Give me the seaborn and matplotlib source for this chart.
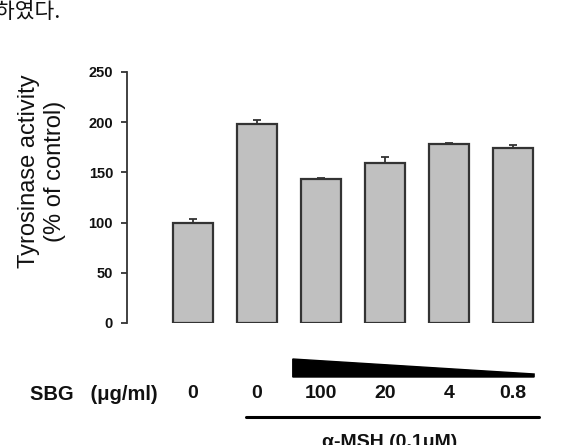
import matplotlib
matplotlib.use("Agg")
import matplotlib.pyplot as plt
import matplotlib.transforms as mtransforms
from matplotlib.patches import Polygon
import seaborn as sns
import pandas as pd
import numpy as np

# ---- data ----
groups = ["ctrl", "msh", "sbg100", "sbg20", "sbg4", "sbg0.8"]
activity = [100, 198, 143, 159, 178, 174]
errors = [4, 4, 1, 6, 1, 3]
sbg_labels = ["0", "0", "100", "20", "4", "0.8"]
yticks = [0, 50, 100, 150, 200, 250]

sns.set_theme(style="white")
plt.rcParams["font.family"] = ["Liberation Sans", "DejaVu Sans"]

W, H = 563, 445
fig = plt.figure(figsize=(W / 100, H / 100), dpi=100)
ax = fig.add_axes([127 / W, (H - 323) / H, (545 - 127) / W, (323 - 72) / H])

df = pd.DataFrame({"group": groups, "activity": activity})
sns.barplot(data=df, x="group", y="activity", order=groups, color="#c0c0c0",
            saturation=1, width=0.625, edgecolor="#333333", linewidth=1.6,
            errorbar=None, ax=ax)
xpos = np.arange(len(groups))
ax.errorbar(xpos, activity, yerr=[np.zeros(len(errors)), errors], fmt="none",
            ecolor="#333333", elinewidth=1.3, capsize=3, capthick=1.3)

ax.set_xlim(-1.03, 5.5)
ax.set_ylim(0, 250)
ax.set_yticks(yticks)
ax.set_yticklabels([str(t) for t in yticks], fontsize=10.5, fontweight="bold", color="#111111")
ax.tick_params(axis="y", direction="out", length=4, width=1.3, color="#333333", left=True, pad=6)
ax.set_xticks(xpos)
ax.set_xticklabels(sbg_labels, fontsize=14, fontweight="bold", color="#111111")
ax.tick_params(axis="x", length=0, pad=45)
ax.set_xlabel("")
ax.set_ylabel("")
for s in ["top", "right", "bottom"]:
    ax.spines[s].set_visible(False)
ax.spines["left"].set_color("#333333")
ax.spines["left"].set_linewidth(1.3)

# y axis title
fig.text(42 / W, (H - 171) / H, "Tyrosinase activity\n(% of control)", fontsize=17,
         color="#111111", rotation=90, ha="center", va="center", multialignment="center",
         linespacing=1.25)

# row label
fig.text(30 / W, (H - 394) / H, "SBG   (μg/ml)", fontsize=14.5, fontweight="bold",
         color="#111111", ha="left", va="center")

# decreasing concentration wedge (x in data, y in figure)
trans = mtransforms.blended_transform_factory(ax.transData, fig.transFigure)
x0, x1 = 1.56, 5.33
wedge = Polygon([[x0, (H - 359) / H], [x1, (H - 374) / H], [x1, (H - 377) / H], [x0, (H - 377) / H]],
                closed=True, facecolor="black", edgecolor="black", transform=trans, clip_on=False)
fig.add_artist(wedge)

# alpha-MSH bar line
fig.add_artist(plt.Line2D([0.83, 5.4], [(H - 417) / H] * 2, color="black", lw=2.2,
                          transform=trans, clip_on=False))
fig.text(390 / W, (H - 434) / H, "α-MSH (0.1μM)", fontsize=14, fontweight="bold",
         color="#111111", ha="center", va="top")

# korean fragment at top-left
fig.text(-5 / W, (H - 12) / H, "하였다.", fontsize=15.5, color="#111111",
         family=["Noto Sans CJK KR", "DejaVu Sans"], ha="left", va="center")

fig.savefig("out.png", dpi=100, facecolor="white")
